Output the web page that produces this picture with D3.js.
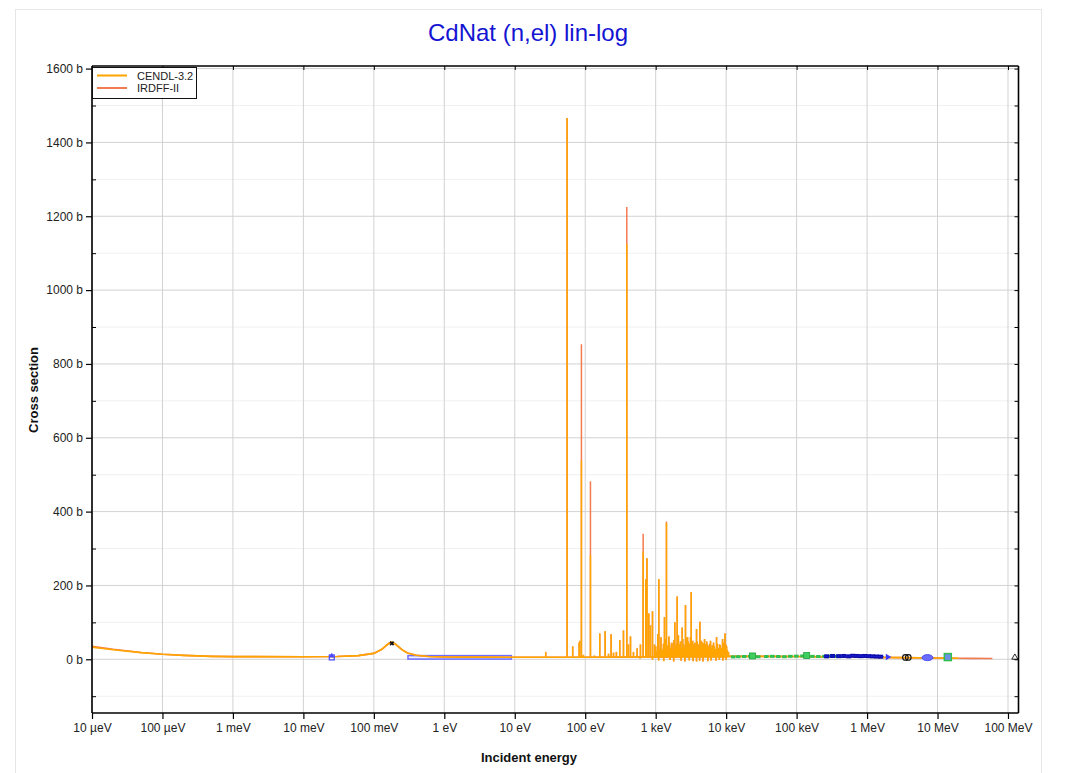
<!DOCTYPE html>
<html><head><meta charset="utf-8">
<script src="https://cdn.jsdelivr.net/npm/d3@7"></script>
<style>
body{margin:0;background:#fff;}
svg{display:block;font-family:"Liberation Sans",Arial,Helvetica,sans-serif;}
</style>
</head><body>
<svg id="c" width="1067" height="773"></svg>
<script>
// ---------- DATA ----------
const xTickValues = [1e-5,1e-4,1e-3,1e-2,1e-1,1,10,100,1e3,1e4,1e5,1e6,1e7,1e8];
const xTickLabels = ["10 µeV","100 µeV","1 meV","10 meV","100 meV","1 eV","10 eV","100 eV","1 keV","10 keV","100 keV","1 MeV","10 MeV","100 MeV"];
const yTickValues = [0,200,400,600,800,1000,1200,1400,1600];
const yTickLabels = ["0 b","200 b","400 b","600 b","800 b","1000 b","1200 b","1400 b","1600 b"];
const yMinorValues = [-100,100,300,500,700,900,1100,1300,1500];

// smooth background (eV, barn)
const cendlBgE  = [1e-5,2e-5,5e-5,1e-4,2e-4,5e-4,1e-3,1e-2,3e-2,6e-2,0.1,0.13,0.16,0.178,0.2,0.25,0.3,0.4,0.6,1,3,10,100,1000,1e4,1.1e4,3e4,1e5,3e5,1e6,3e6,1e7,2e7];
const cendlBgXS = [33,26,18,13.5,10.5,8,7.2,7.0,7.5,10,16,27,42,47,42,26,17,11,7.5,6.3,5.8,5.6,5.6,6,7,8,8,7.5,6.5,5.5,4.5,3.5,3];
const irdffBgE  = [1e-5,2e-5,5e-5,1e-4,2e-4,5e-4,1e-3,1e-2,3e-2,6e-2,0.1,0.13,0.16,0.178,0.2,0.25,0.3,0.4,0.6,1,3,10,100,1000,1e4,1.1e4,3e4,1e5,3e5,1e6,3e6,1e7,2e7,3e7,6e7];
const irdffBgXS = [35,27,18.5,13.8,10.6,8,7.2,7.0,7.5,10,16,27,42,46,42,26,17,11,7.5,6.3,5.8,5.6,5.6,6,7,8,8,7.5,6.5,5.5,4.5,3.5,2.8,2.5,2.2];

// resolved resonances (eV) and peak cross sections (b)
const resE     = [27.5,55.3,66.4,82,83.5,88.3,94.2,118.6,135,160.7,191.8,214,233,252,277,309,349,389,411,439,484,546,608,664,723,752,798,843,901,961,1071,1107,1208,1333,1422,1570,1675,1867,2019,2178,2378,2649,2830,3194,3443,3800,4236,4627,4936,5450,6000,6623,7308,8060,8894,9643,10140];
const resCendl = [20,1466,35,45,50,538,12,282,10,70,76,15,68,18,20,52,78,1124,40,62,20,30,40,292,217,274,124,92,130,40,68,217,30,114,369,45,38,100,170,40,86,147,60,182,40,82,102,45,55,40,50,45,60,40,55,70,35];
const resIrdff = [20,1466,35,45,50,853,12,482,10,70,76,15,68,18,20,52,78,1225,40,62,20,30,40,340,217,274,124,92,130,40,68,217,30,114,373,45,38,100,170,40,86,147,60,182,40,82,102,45,55,40,50,45,60,40,55,70,35];
// dense unresolved structure 0.6–11 keV (eV, b), includes interference dips
const denseE  = [600,900,1000,1040,1090,1100,1150,1190,1250,1290,1300,1360,1390,1460,1500,1540,1600,1620,1700,1760,1800,1820,1900,1960,2050,2100,2200,2250,2300,2320,2420,2500,2580,2600,2700,2760,2900,2980,3000,3050,3120,3300,3350,3400,3520,3600,3700,3800,3900,4000,4100,4200,4350,4450,4550,4700,4750,4850,5050,5200,5300,5500,5600,5750,5900,6100,6200,6350,6500,6800,7000,7200,7500,7700,7900,8000,8300,8500,8700,9000,9200,9400,9900,10000,10400,10800];
const denseXS = [2,-1,35,22,48,-3,28,60,25,42,-5,30,55,20,38,62,-2,30,45,28,-6,52,35,40,30,65,35,48,-4,30,55,40,32,-6,58,35,48,30,-3,42,60,38,50,-5,30,45,35,-6,48,28,40,-4,35,50,30,-6,42,28,40,30,48,-5,35,28,42,-3,30,38,25,35,28,-4,42,30,25,-2,38,30,25,-3,45,30,40,-1,25,20];
const resBase = 6;

// EXFOR-like experimental points
const expTriE = [0.0253], expTriXS = [9];
const expSqE = [0.0253], expSqXS = [5];
const expXE = [0.18], expXXS = [43];
const expBoxE = [0.305, 8.95], expBoxXS = [0.5, 10];
const greenE  = [1.27e4,1.5e4,1.82e4,2.22e4,2.88e4,3.75e4,4.56e4,5.55e4,6.76e4,8.22e4,1.0e5,1.22e5,1.69e5,2.05e5,2.5e5,3.04e5,3.7e5,4.5e5];
const greenXS = [6.5,7,7.5,8,7,7.5,8,7.5,7,8,8.5,9,8,7.5,8,8.5,8,7.5];
const greenBigE = [2.37e4,1.39e5], greenBigXS = [9,10];
const blueDarkE  = [2.67e5,3.24e5,3.95e5,4.66e5,5.48e5,6.24e5,7.11e5,8.11e5,9.24e5,1.05e6,1.2e6,1.37e6,1.56e6];
const blueDarkXS = [8,9,8.5,9,8,9.5,9,8.5,9,8.5,8,7.5,7];
const blueTriE = [1.96e6], blueTriXS = [6];
const blackCircE = [3.5e6,3.85e6], blackCircXS = [5,5];
const blueEllE = [7.2e6], blueEllXS = [4.5];
const greenSqE = [1.4e7], greenSqXS = [6];
const blackTriE = [1.25e8], blackTriXS = [5];

// ---------- DRAWING ----------
(function(){
const svg = d3.select("#c");
const L = 92, R = 1018.5, T = 66, B = 713;
const x = d3.scaleLog().domain([1e-5, 1.41e8]).range([L, R]);
const y = d3.scaleLinear().domain([-145.5, 1607]).range([B, T]);

svg.append("rect").attr("x",15.5).attr("y",9.5).attr("width",1026).attr("height",780)
  .attr("fill","#fff").attr("stroke","#e6e6e6");

svg.append("text").attr("x",528).attr("y",41).attr("text-anchor","middle")
  .attr("font-size",24).attr("fill","#1414d2").text("CdNat (n,el) lin-log");

const g = svg.append("g");
g.selectAll(".ymin").data(yMinorValues).join("line")
  .attr("x1",L).attr("x2",R).attr("y1",d=>y(d)).attr("y2",d=>y(d))
  .attr("stroke","#f0f0f0").attr("stroke-width",1);
g.selectAll(".ymaj").data(yTickValues).join("line")
  .attr("x1",L).attr("x2",R).attr("y1",d=>y(d)).attr("y2",d=>y(d))
  .attr("stroke","#d2d2d2").attr("stroke-width",1);
g.selectAll(".xg").data(xTickValues).join("line")
  .attr("x1",d=>x(d)).attr("x2",d=>x(d)).attr("y1",T).attr("y2",B)
  .attr("stroke","#d2d2d2").attr("stroke-width",1);

svg.append("clipPath").attr("id","clip").append("rect")
  .attr("x",L).attr("y",T).attr("width",R-L).attr("height",B-T);
const plot = svg.append("g").attr("clip-path","url(#clip)");

plot.append("rect")
  .attr("x",x(expBoxE[0])).attr("width",x(expBoxE[1])-x(expBoxE[0]))
  .attr("y",y(expBoxXS[1])).attr("height",y(expBoxXS[0])-y(expBoxXS[1]))
  .attr("fill","rgba(120,120,255,0.12)").attr("stroke","#6f6fff").attr("stroke-width",1.5);

const mk = plot.append("g");
const zip = (a,b)=>a.map((v,i)=>[v,b[i]]);
mk.selectAll(".gr").data(zip(greenE,greenXS)).join("rect")
  .attr("x",d=>x(d[0])-2.5).attr("y",d=>y(d[1])-1.5).attr("width",4.5).attr("height",3)
  .attr("fill","#2fbf4f");
mk.selectAll(".grb").data(zip(greenBigE,greenBigXS)).join("rect")
  .attr("x",d=>x(d[0])-3).attr("y",d=>y(d[1])-3).attr("width",6).attr("height",6)
  .attr("fill","#3fcf5f").attr("stroke","#1f9f3f").attr("stroke-width",0.8);
mk.selectAll(".bd").data(zip(blueDarkE,blueDarkXS)).join("rect")
  .attr("x",d=>x(d[0])-2.5).attr("y",d=>y(d[1])-2).attr("width",5).attr("height",4)
  .attr("fill","#0a0aa8");
mk.selectAll(".bdl").data(zip(blueDarkE,blueDarkXS)).join("line")
  .attr("x1",d=>x(d[0]*0.9)).attr("x2",d=>x(d[0]*1.1)).attr("y1",d=>y(d[1])).attr("y2",d=>y(d[1]))
  .attr("stroke","#1a1ad0").attr("stroke-width",1);
mk.selectAll(".bt").data(zip(blueTriE,blueTriXS)).join("path")
  .attr("transform",d=>`translate(${x(d[0])},${y(d[1])}) rotate(90)`)
  .attr("d",d3.symbol(d3.symbolTriangle,18)).attr("fill","#3a3aff");
mk.selectAll(".bc").data(zip(blackCircE,blackCircXS)).join("circle")
  .attr("cx",d=>x(d[0])).attr("cy",d=>y(d[1])).attr("r",2.8)
  .attr("fill","none").attr("stroke","#111").attr("stroke-width",1.1);
mk.selectAll(".be").data(zip(blueEllE,blueEllXS)).join("ellipse")
  .attr("cx",d=>x(d[0])).attr("cy",d=>y(d[1])).attr("rx",5.5).attr("ry",3)
  .attr("fill","#6b6bff").attr("stroke","#4a4aee");
mk.selectAll(".gs").data(zip(greenSqE,greenSqXS)).join("rect")
  .attr("x",d=>x(d[0])-3.5).attr("y",d=>y(d[1])-3.5).attr("width",7).attr("height",7)
  .attr("fill","#6f8fe8").attr("stroke","#2fbf4f").attr("stroke-width",1.5);
mk.selectAll(".tri").data(zip(expTriE,expTriXS)).join("path")
  .attr("transform",d=>`translate(${x(d[0])},${y(d[1])})`)
  .attr("d",d3.symbol(d3.symbolTriangle,14)).attr("fill","#4a4aff");
mk.selectAll(".sq").data(zip(expSqE,expSqXS)).join("rect")
  .attr("x",d=>x(d[0])-2.5).attr("y",d=>y(d[1])-2.5).attr("width",5).attr("height",5)
  .attr("fill","none").attr("stroke","#4a4aff").attr("stroke-width",1.2);

const line = d3.line().x(d=>x(d[0])).y(d=>y(d[1]));
function drawSeries(bgE,bgXS,pE,pXS,color){
  const s = plot.append("g");
  s.append("path").datum(zip(bgE,bgXS)).attr("d",line)
    .attr("fill","none").attr("stroke",color).attr("stroke-width",1.6);
  s.selectAll(".sp").data(zip(pE,pXS)).join("path")
    .attr("d",d=>line([[d[0],resBase],[d[0],d[1]]]))
    .attr("fill","none").attr("stroke",color).attr("stroke-width",1.5);
  s.selectAll(".dn").data(zip(denseE,denseXS)).join("path")
    .attr("d",d=>line([[d[0],resBase],[d[0],d[1]]]))
    .attr("fill","none").attr("stroke",color).attr("stroke-width",1.5);
}
drawSeries(irdffBgE,irdffBgXS,resE,resIrdff,"#f47a50");
drawSeries(cendlBgE,cendlBgXS,resE,resCendl,"#ffa500");

mk.raise();
plot.selectAll(".xm").data(zip(expXE,expXXS)).join("path")
  .attr("transform",d=>`translate(${x(d[0])},${y(d[1])}) rotate(45)`)
  .attr("d",d3.symbol(d3.symbolCross,14)).attr("fill","#111");
svg.append("g").selectAll(".bk").data(zip(blackTriE,blackTriXS)).join("path")
  .attr("transform",d=>`translate(${x(d[0])},${y(d[1])})`)
  .attr("d",d3.symbol(d3.symbolTriangle,16)).attr("fill","none").attr("stroke","#111").attr("stroke-width",0.9);

const axG = svg.append("g");
const axB = d3.axisBottom(x).tickValues(xTickValues).tickFormat((d,i)=>xTickLabels[i]).tickSize(6).tickPadding(4);
axG.append("g").attr("transform",`translate(0,${B})`).call(axB)
  .call(a=>{a.select(".domain").attr("stroke","#000").attr("stroke-width",1.6).attr("d",`M${L},0H${R}`);
            a.selectAll("text").attr("font-size",12).attr("fill","#222").attr("font-family","Liberation Sans, Arial, sans-serif");
            a.selectAll("line").attr("stroke","#000").attr("stroke-width",1.2);});
const axT = d3.axisTop(x).tickValues(xTickValues).tickFormat("").tickSize(-4);
axG.append("g").attr("transform",`translate(0,${T})`).call(axT)
  .call(a=>{a.select(".domain").attr("stroke","#000").attr("stroke-width",1.6).attr("d",`M${L},0H${R}`);
            a.selectAll("line").attr("stroke","#000");});
const axL = d3.axisLeft(y).tickValues(yTickValues).tickFormat((d,i)=>yTickLabels[i]).tickSize(6).tickPadding(3);
axG.append("g").attr("transform",`translate(${L},0)`).call(axL)
  .call(a=>{a.select(".domain").attr("stroke","#000").attr("stroke-width",1.6).attr("d",`M0,${T}V${B}`);
            a.selectAll("text").attr("font-size",12).attr("fill","#222").attr("font-family","Liberation Sans, Arial, sans-serif");
            a.selectAll("line").attr("stroke","#000").attr("stroke-width",1.2);});
const axLm = d3.axisLeft(y).tickValues(yMinorValues).tickFormat("").tickSize(-4);
axG.append("g").attr("transform",`translate(${L},0)`).call(axLm)
  .call(a=>{a.select(".domain").remove(); a.selectAll("line").attr("stroke","#000");});
const axR = d3.axisRight(y).tickValues(yTickValues.concat(yMinorValues)).tickFormat("").tickSize(-4);
axG.append("g").attr("transform",`translate(${R},0)`).call(axR)
  .call(a=>{a.select(".domain").attr("stroke","#000").attr("stroke-width",1.6).attr("d",`M0,${T}V${B}`);
            a.selectAll("line").attr("stroke","#000");});

svg.append("text").attr("x",529).attr("y",762).attr("text-anchor","middle")
  .attr("font-size",13).attr("font-weight","bold").attr("fill","#111").text("Incident energy");
svg.append("text").attr("transform","translate(38,390) rotate(-90)").attr("text-anchor","middle")
  .attr("font-size",13).attr("font-weight","bold").attr("fill","#111").text("Cross section");

const seriesNames = ["CENDL-3.2","IRDFF-II"];
const seriesColors = ["#ffa500","#f47a50"];
const lg = svg.append("g");
lg.append("rect").attr("x",92.5).attr("y",67.5).attr("width",104).attr("height",31)
  .attr("fill","#fff").attr("stroke","#111").attr("stroke-width",1);
seriesNames.forEach((n,i)=>{
  const yy = 75.5 + i*12.5;
  lg.append("line").attr("x1",97).attr("x2",127).attr("y1",yy).attr("y2",yy)
    .attr("stroke",seriesColors[i]).attr("stroke-width",2);
  lg.append("text").attr("x",137).attr("y",yy+4).attr("font-size",11).attr("fill","#222").text(n);
});
})();
</script>
</body></html>
